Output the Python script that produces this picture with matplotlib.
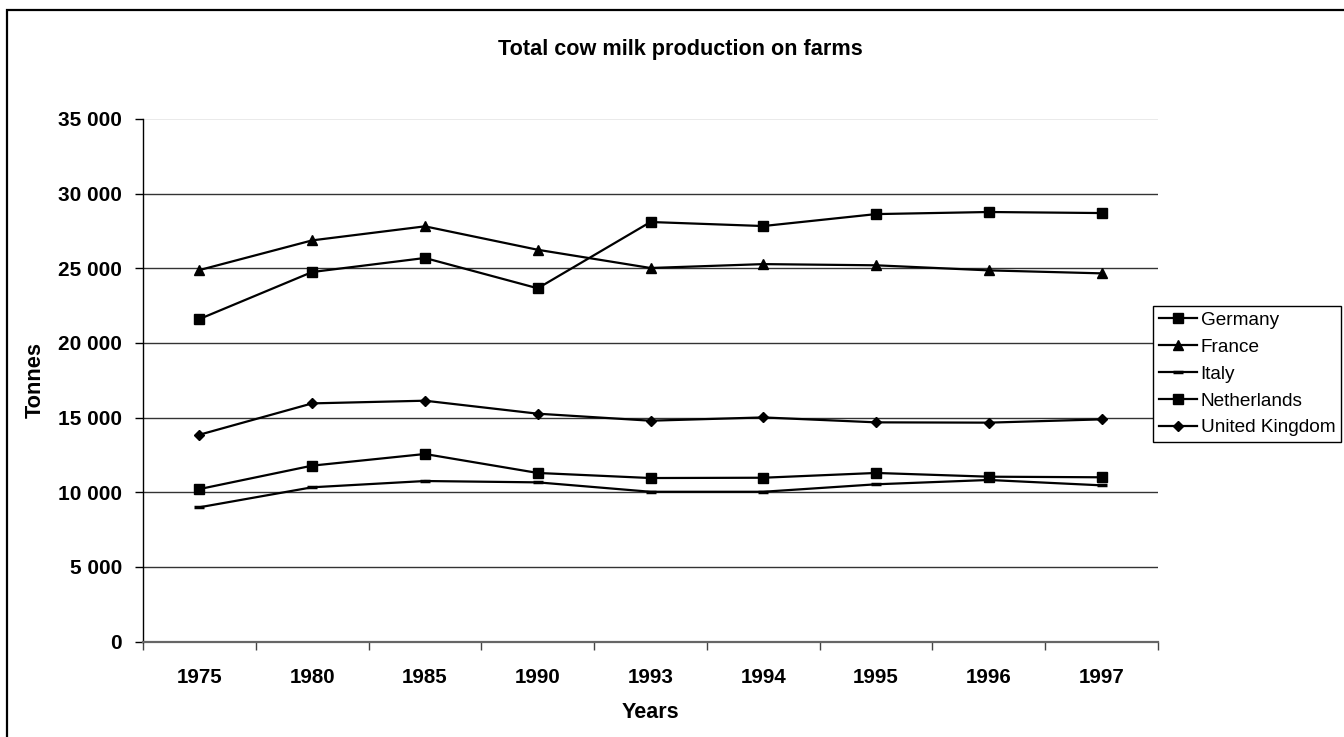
import matplotlib
matplotlib.use("Agg")
import matplotlib.pyplot as plt
from matplotlib.patches import Rectangle
from matplotlib.ticker import FuncFormatter, FixedLocator

years = ["1975", "1980", "1985", "1990", "1993", "1994", "1995", "1996", "1997"]

germany = [21600, 24750, 25690, 23660, 28100, 27830, 28630, 28770, 28700]
france = [24880, 26870, 27810, 26240, 25020, 25280, 25200, 24860, 24660]
italy = [8990, 10330, 10750, 10660, 10030, 10030, 10530, 10820, 10460]
netherlands = [10210, 11780, 12560, 11290, 10950, 10970, 11290, 11040, 11000]
united_kingdom = [13850, 15950, 16130, 15260, 14790, 15010, 14680, 14660, 14880]

series = [
    ("Germany", germany, "s", 6.5),
    ("France", france, "^", 7),
    ("Italy", italy, "_", 7),
    ("Netherlands", netherlands, "s", 6.5),
    ("United Kingdom", united_kingdom, "D", 5),
]

plt.rcParams['font.family'] = ['Liberation Sans', 'DejaVu Sans']

W, H = 1344, 737
fig = plt.figure(figsize=(W / 100, H / 100), dpi=100)
ax = fig.add_axes([143 / W, 1 - 641.5 / H, (1158 - 143) / W, (641.5 - 119) / H])

x = list(range(len(years)))
for name, vals, mk, ms in series:
    mew = 2.5 if mk == "_" else 1
    ax.plot(x, vals, color="black", lw=1.6, marker=mk, markersize=ms,
            markeredgewidth=mew, label=name, zorder=3)

ax.set_xlim(-0.5, len(years) - 0.5)
ax.set_ylim(0, 35000)

# gridlines
for v in range(5000, 35000, 5000):
    ax.axhline(v, color="#333333", lw=1, zorder=1)
ax.axhline(35000, color="#e6e6e6", lw=1.2, zorder=1)

for s in ["top", "right"]:
    ax.spines[s].set_visible(False)
ax.spines["left"].set_color("black")
ax.spines["left"].set_linewidth(1)
ax.spines["bottom"].set_color("#666666")
ax.spines["bottom"].set_linewidth(1.6)

ax.yaxis.set_major_locator(FixedLocator(range(0, 35001, 5000)))
ax.yaxis.set_major_formatter(FuncFormatter(lambda v, p: f"{int(v):,}".replace(",", " ")))
ax.tick_params(axis="y", direction="out", length=6, width=1, pad=9,
               labelsize=15)
for t in ax.get_yticklabels():
    t.set_fontweight("bold")

ax.set_xticks(x)
ax.set_xticklabels(years, fontsize=14.8, fontweight="bold")
ax.set_xticks([i - 0.5 for i in range(len(years) + 1)], minor=True)
ax.tick_params(axis="x", which="major", length=0, pad=19)
ax.tick_params(axis="x", which="minor", direction="out", length=6, width=1,
               color="#444444")

fig.text(680 / W, 1 - 49 / H, "Total cow milk production on farms",
         ha="center", va="center", fontsize=15.6, fontweight="bold")
fig.text(35 / W, 1 - 380 / H, "Tonnes", rotation=90, ha="center", va="center",
         fontsize=15.7, fontweight="bold")
fig.text(650 / W, 1 - 713 / H, "Years", ha="center", va="center",
         fontsize=15.5, fontweight="bold")

leg = fig.legend(loc="upper left", bbox_to_anchor=(1153 / W, 1 - 306 / H),
                 fontsize=13.7, frameon=True, fancybox=False, framealpha=1,
                 edgecolor="black", handlelength=2.0, handletextpad=0.2,
                 labelspacing=0.5, borderpad=0.3, borderaxespad=0)
leg.get_frame().set_linewidth(1)

# chart area border
fig.patches.append(Rectangle((7 / W, -0.05), 1.1, 1 - 10 / H + 0.05,
                             transform=fig.transFigure, fill=False,
                             edgecolor="black", lw=1.6))

fig.savefig("out.png", dpi=100)
